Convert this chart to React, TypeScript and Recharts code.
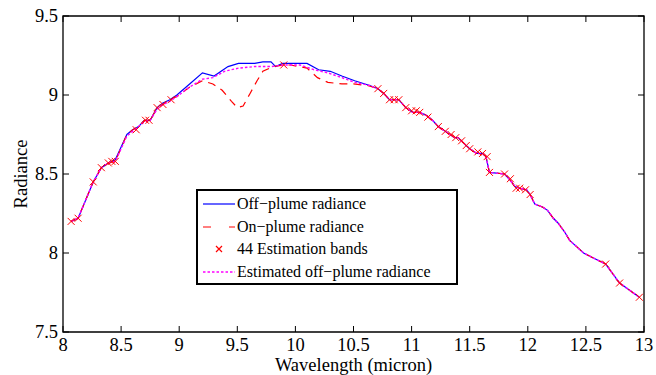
import React from 'react';
import { ComposedChart, Line, Scatter, XAxis, YAxis, Legend, ReferenceArea } from 'recharts';

// Off-plume radiance (blue solid)
const offWl = [8.07, 8.13, 8.26, 8.33, 8.39, 8.45, 8.55, 8.6, 8.65, 8.7, 8.75, 8.81, 8.86, 8.92, 8.98, 9.09, 9.2, 9.3, 9.42, 9.51, 9.58, 9.65, 9.72, 9.79, 9.83, 9.89, 9.95, 10.04, 10.1, 10.2, 10.3, 10.4, 10.51, 10.64, 10.71, 10.76, 10.81, 10.89, 10.95, 11.01, 11.07, 11.13, 11.18, 11.23, 11.29, 11.37, 11.4, 11.47, 11.5, 11.56, 11.61, 11.64, 11.67, 11.8, 11.85, 11.89, 11.93, 11.99, 12.02, 12.06, 12.13, 12.17, 12.22, 12.26, 12.32, 12.36, 12.42, 12.48, 12.56, 12.67, 12.79, 12.96];
const offRad = [8.2, 8.22, 8.45, 8.54, 8.57, 8.59, 8.75, 8.78, 8.8, 8.84, 8.84, 8.92, 8.95, 8.97, 9.0, 9.07, 9.14, 9.12, 9.18, 9.2, 9.2, 9.2, 9.21, 9.21, 9.18, 9.2, 9.2, 9.2, 9.2, 9.16, 9.15, 9.12, 9.09, 9.06, 9.04, 9.01, 8.97, 8.97, 8.92, 8.89, 8.89, 8.87, 8.84, 8.8, 8.77, 8.73, 8.73, 8.68, 8.66, 8.63, 8.63, 8.61, 8.51, 8.5, 8.46, 8.42, 8.41, 8.4, 8.37, 8.31, 8.29, 8.27, 8.22, 8.19, 8.13, 8.08, 8.04, 8.0, 7.97, 7.93, 7.81, 7.72];

// On-plume radiance (red dashed)
const onWl = [8.07, 8.13, 8.26, 8.33, 8.39, 8.45, 8.55, 8.6, 8.65, 8.7, 8.75, 8.81, 8.86, 8.92, 8.98, 9.09, 9.2, 9.29, 9.37, 9.45, 9.5, 9.55, 9.61, 9.67, 9.72, 9.81, 9.9, 9.96, 10.1, 10.19, 10.28, 10.4, 10.5, 10.62, 10.71, 10.76, 10.81, 10.89, 10.95, 11.01, 11.07, 11.13, 11.18, 11.23, 11.29, 11.37, 11.4, 11.47, 11.5, 11.56, 11.61, 11.64, 11.67, 11.8, 11.85, 11.89, 11.93, 11.99, 12.02, 12.06, 12.13, 12.17, 12.22, 12.26, 12.32, 12.36, 12.42, 12.48, 12.56, 12.67, 12.79, 12.96];
const onRad = [8.2, 8.22, 8.45, 8.54, 8.57, 8.58, 8.75, 8.78, 8.8, 8.84, 8.84, 8.92, 8.94, 8.97, 8.99, 9.05, 9.09, 9.07, 9.03, 8.96, 8.92, 8.93, 9.01, 9.09, 9.15, 9.18, 9.19, 9.19, 9.17, 9.11, 9.08, 9.07, 9.07, 9.06, 9.04, 9.01, 8.97, 8.97, 8.92, 8.89, 8.89, 8.87, 8.84, 8.8, 8.77, 8.73, 8.73, 8.68, 8.66, 8.63, 8.63, 8.61, 8.51, 8.5, 8.46, 8.42, 8.41, 8.4, 8.37, 8.31, 8.29, 8.27, 8.22, 8.19, 8.13, 8.08, 8.04, 8.0, 7.97, 7.93, 7.81, 7.72];

// 44 estimation bands (red crosses)
const bandWl = [8.07, 8.13, 8.26, 8.33, 8.39, 8.42, 8.45, 8.63, 8.71, 8.74, 8.81, 8.86, 8.93, 9.9, 10.71, 10.76, 10.81, 10.85, 10.89, 10.95, 11.0, 11.04, 11.07, 11.14, 11.23, 11.29, 11.34, 11.38, 11.43, 11.47, 11.5, 11.57, 11.61, 11.65, 11.67, 11.8, 11.85, 11.9, 11.93, 11.98, 12.02, 12.67, 12.79, 12.96];
const bandRad = [8.2, 8.22, 8.45, 8.54, 8.57, 8.58, 8.58, 8.78, 8.84, 8.84, 8.92, 8.94, 8.97, 9.19, 9.04, 9.01, 8.97, 8.97, 8.97, 8.92, 8.9, 8.9, 8.89, 8.86, 8.8, 8.77, 8.75, 8.73, 8.71, 8.68, 8.66, 8.64, 8.63, 8.61, 8.51, 8.5, 8.47, 8.41, 8.41, 8.4, 8.37, 7.93, 7.81, 7.72];

// Estimated off-plume radiance (magenta dotted)
const estWl = [8.07, 8.13, 8.26, 8.33, 8.39, 8.45, 8.55, 8.6, 8.65, 8.7, 8.75, 8.81, 8.86, 8.92, 8.98, 9.09, 9.2, 9.29, 9.39, 9.51, 9.65, 9.79, 9.9, 10.04, 10.16, 10.28, 10.4, 10.51, 10.64, 10.71, 10.76, 10.81, 10.89, 10.95, 11.01, 11.07, 11.13, 11.18, 11.23, 11.29, 11.37, 11.4, 11.47, 11.5, 11.56, 11.61, 11.64, 11.67, 11.8, 11.85, 11.89, 11.93, 11.99, 12.02, 12.06, 12.13, 12.17, 12.22, 12.26, 12.32, 12.36, 12.42, 12.48, 12.56, 12.67, 12.79, 12.96];
const estRad = [8.2, 8.22, 8.45, 8.54, 8.57, 8.58, 8.74, 8.77, 8.8, 8.83, 8.84, 8.91, 8.94, 8.96, 8.99, 9.05, 9.1, 9.11, 9.15, 9.17, 9.18, 9.18, 9.19, 9.19, 9.16, 9.14, 9.11, 9.08, 9.06, 9.04, 9.01, 8.97, 8.97, 8.92, 8.89, 8.89, 8.87, 8.84, 8.8, 8.77, 8.73, 8.73, 8.68, 8.66, 8.63, 8.63, 8.61, 8.51, 8.5, 8.46, 8.42, 8.41, 8.4, 8.37, 8.31, 8.29, 8.27, 8.22, 8.19, 8.13, 8.08, 8.04, 8.0, 7.97, 7.93, 7.81, 7.72];

const xTicks = [8, 8.5, 9, 9.5, 10, 10.5, 11, 11.5, 12, 12.5, 13];
const yTicks = [7.5, 8, 8.5, 9, 9.5];

const legendItems = [
  { label: 'Off\u2212plume radiance', kind: 'solid', color: '#0000ff' },
  { label: 'On\u2212plume radiance', kind: 'dash', color: '#ff0000' },
  { label: '44 Estimation bands', kind: 'cross', color: '#ff0000' },
  { label: 'Estimated off\u2212plume radiance', kind: 'dot', color: '#ff00ff' },
];

const zip = (xs: number[], ys: number[]) => xs.map((x, i) => ({ x, y: ys[i] }));
const offData = zip(offWl, offRad);
const onData = zip(onWl, onRad);
const bandData = zip(bandWl, bandRad);
const estData = zip(estWl, estRad);

const W = 656;
const H = 375;
const M = { top: 16, right: 12, left: 0, bottom: 0 };
const YW = 63;
const XH = 43;
const PT = M.top;
const PB = H - XH;
const PL = YW;
const PR = W - M.right;
const FONT = 'Liberation Serif';
const AX_FS = 18.5;
const LEG_FS = 16;
const TICK = 6;

const fmt = (v: number) => String(v);

const XTick = (props: any) => {
  const { x, payload } = props;
  return (
    <g>
      <line x1={x} x2={x} y1={PB} y2={PB - TICK} stroke="#000" strokeWidth={1} />
      <line x1={x} x2={x} y1={PT} y2={PT + TICK} stroke="#000" strokeWidth={1} />
      <text x={x} y={PB + 19} textAnchor="middle" fontFamily={FONT} fontSize={AX_FS} fill="#000">
        {fmt(payload.value)}
      </text>
    </g>
  );
};

const YTick = (props: any) => {
  const { y, payload } = props;
  return (
    <g>
      <line x1={PL} x2={PL + TICK} y1={y} y2={y} stroke="#000" strokeWidth={1} />
      <line x1={PR} x2={PR - TICK} y1={y} y2={y} stroke="#000" strokeWidth={1} />
      <text x={PL - 5} y={y + 6} textAnchor="end" fontFamily={FONT} fontSize={AX_FS} fill="#000">
        {fmt(payload.value)}
      </text>
    </g>
  );
};

const Cross = (props: any) => {
  const { cx, cy } = props;
  if (cx == null || cy == null) return null;
  const s = 3.5;
  return (
    <path
      d={`M${cx - s},${cy - s}L${cx + s},${cy + s}M${cx - s},${cy + s}L${cx + s},${cy - s}`}
      stroke="#ff0000"
      strokeWidth={1}
      fill="none"
    />
  );
};

const LegendBox = () => (
  <div
    style={{
      width: 258,
      height: 92,
      border: '2px solid #000',
      background: '#fff',
      fontFamily: FONT,
      fontSize: LEG_FS,
      color: '#000',
      position: 'relative',
      boxSizing: 'content-box',
    }}
  >
    {legendItems.map((it, i) => (
      <div
        key={it.label}
        style={{ position: 'absolute', left: 0, top: 2 + i * 22.5, height: 22, display: 'flex', alignItems: 'center', whiteSpace: 'nowrap' }}
      >
        <svg width={39} height={22} style={{ display: 'block' }}>
          {it.kind === 'solid' && <line x1={5} x2={37} y1={11} y2={11} stroke={it.color} strokeWidth={1.2} />}
          {it.kind === 'dash' && <line x1={5} x2={37} y1={11} y2={11} stroke={it.color} strokeWidth={1.2} strokeDasharray="8 18" />}
          {it.kind === 'cross' && (
            <path d="M18,8L24,14M18,14L24,8" stroke={it.color} strokeWidth={1.2} fill="none" />
          )}
          {it.kind === 'dot' && <line x1={5} x2={37} y1={11} y2={11} stroke={it.color} strokeWidth={1.3} strokeDasharray="2.5 2" />}
        </svg>
        <span style={{ lineHeight: '22px' }}>{it.label}</span>
      </div>
    ))}
  </div>
);

export default function App() {
  return (
    <div style={{ position: 'absolute', left: 0, top: 0, width: W, height: H, background: '#fff' }}>
      <ComposedChart width={W} height={H} margin={M}>
        <XAxis
          dataKey="x"
          type="number"
          domain={[8, 13]}
          ticks={xTicks}
          interval={0}
          allowDataOverflow
          height={XH}
          tick={<XTick />}
          tickLine={false}
          axisLine={false}
          tickSize={0}
          label={{
            content: () => (
              <text x={(PL + PR) / 2} y={H - 4} textAnchor="middle" fontFamily={FONT} fontSize={AX_FS} fill="#000">
                Wavelength (micron)
              </text>
            ),
          } as any}
        />
        <YAxis
          dataKey="y"
          type="number"
          domain={[7.5, 9.5]}
          ticks={yTicks}
          interval={0}
          allowDataOverflow
          width={YW}
          tick={<YTick />}
          tickLine={false}
          axisLine={false}
          tickSize={0}
          label={{
            content: () => (
              <text
                x={27}
                y={(PT + PB) / 2}
                textAnchor="middle"
                fontFamily={FONT}
                fontSize={AX_FS}
                fill="#000"
                transform={`rotate(-90 27 ${(PT + PB) / 2})`}
              >
                Radiance
              </text>
            ),
          } as any}
        />
        <ReferenceArea x1={8} x2={13} y1={7.5} y2={9.5} fill="none" stroke="#000" strokeWidth={1.3} ifOverflow="visible" />
        <Line data={offData} dataKey="y" stroke="#0000ff" strokeWidth={1.2} dot={false} isAnimationActive={false} />
        <Line data={onData} dataKey="y" stroke="#ff0000" strokeWidth={1.2} strokeDasharray="8 6" dot={false} isAnimationActive={false} />
        <Scatter data={bandData} dataKey="y" shape={<Cross />} isAnimationActive={false} />
        <Line data={estData} dataKey="y" stroke="#ff00ff" strokeWidth={1.4} strokeDasharray="2.5 2" dot={false} isAnimationActive={false} />
        <Legend
          layout="horizontal"
          align="center"
          verticalAlign="middle"
          content={() => <LegendBox />}
          wrapperStyle={{ left: 196, top: 189, width: 262, height: 96 }}
        />
      </ComposedChart>
    </div>
  );
}
